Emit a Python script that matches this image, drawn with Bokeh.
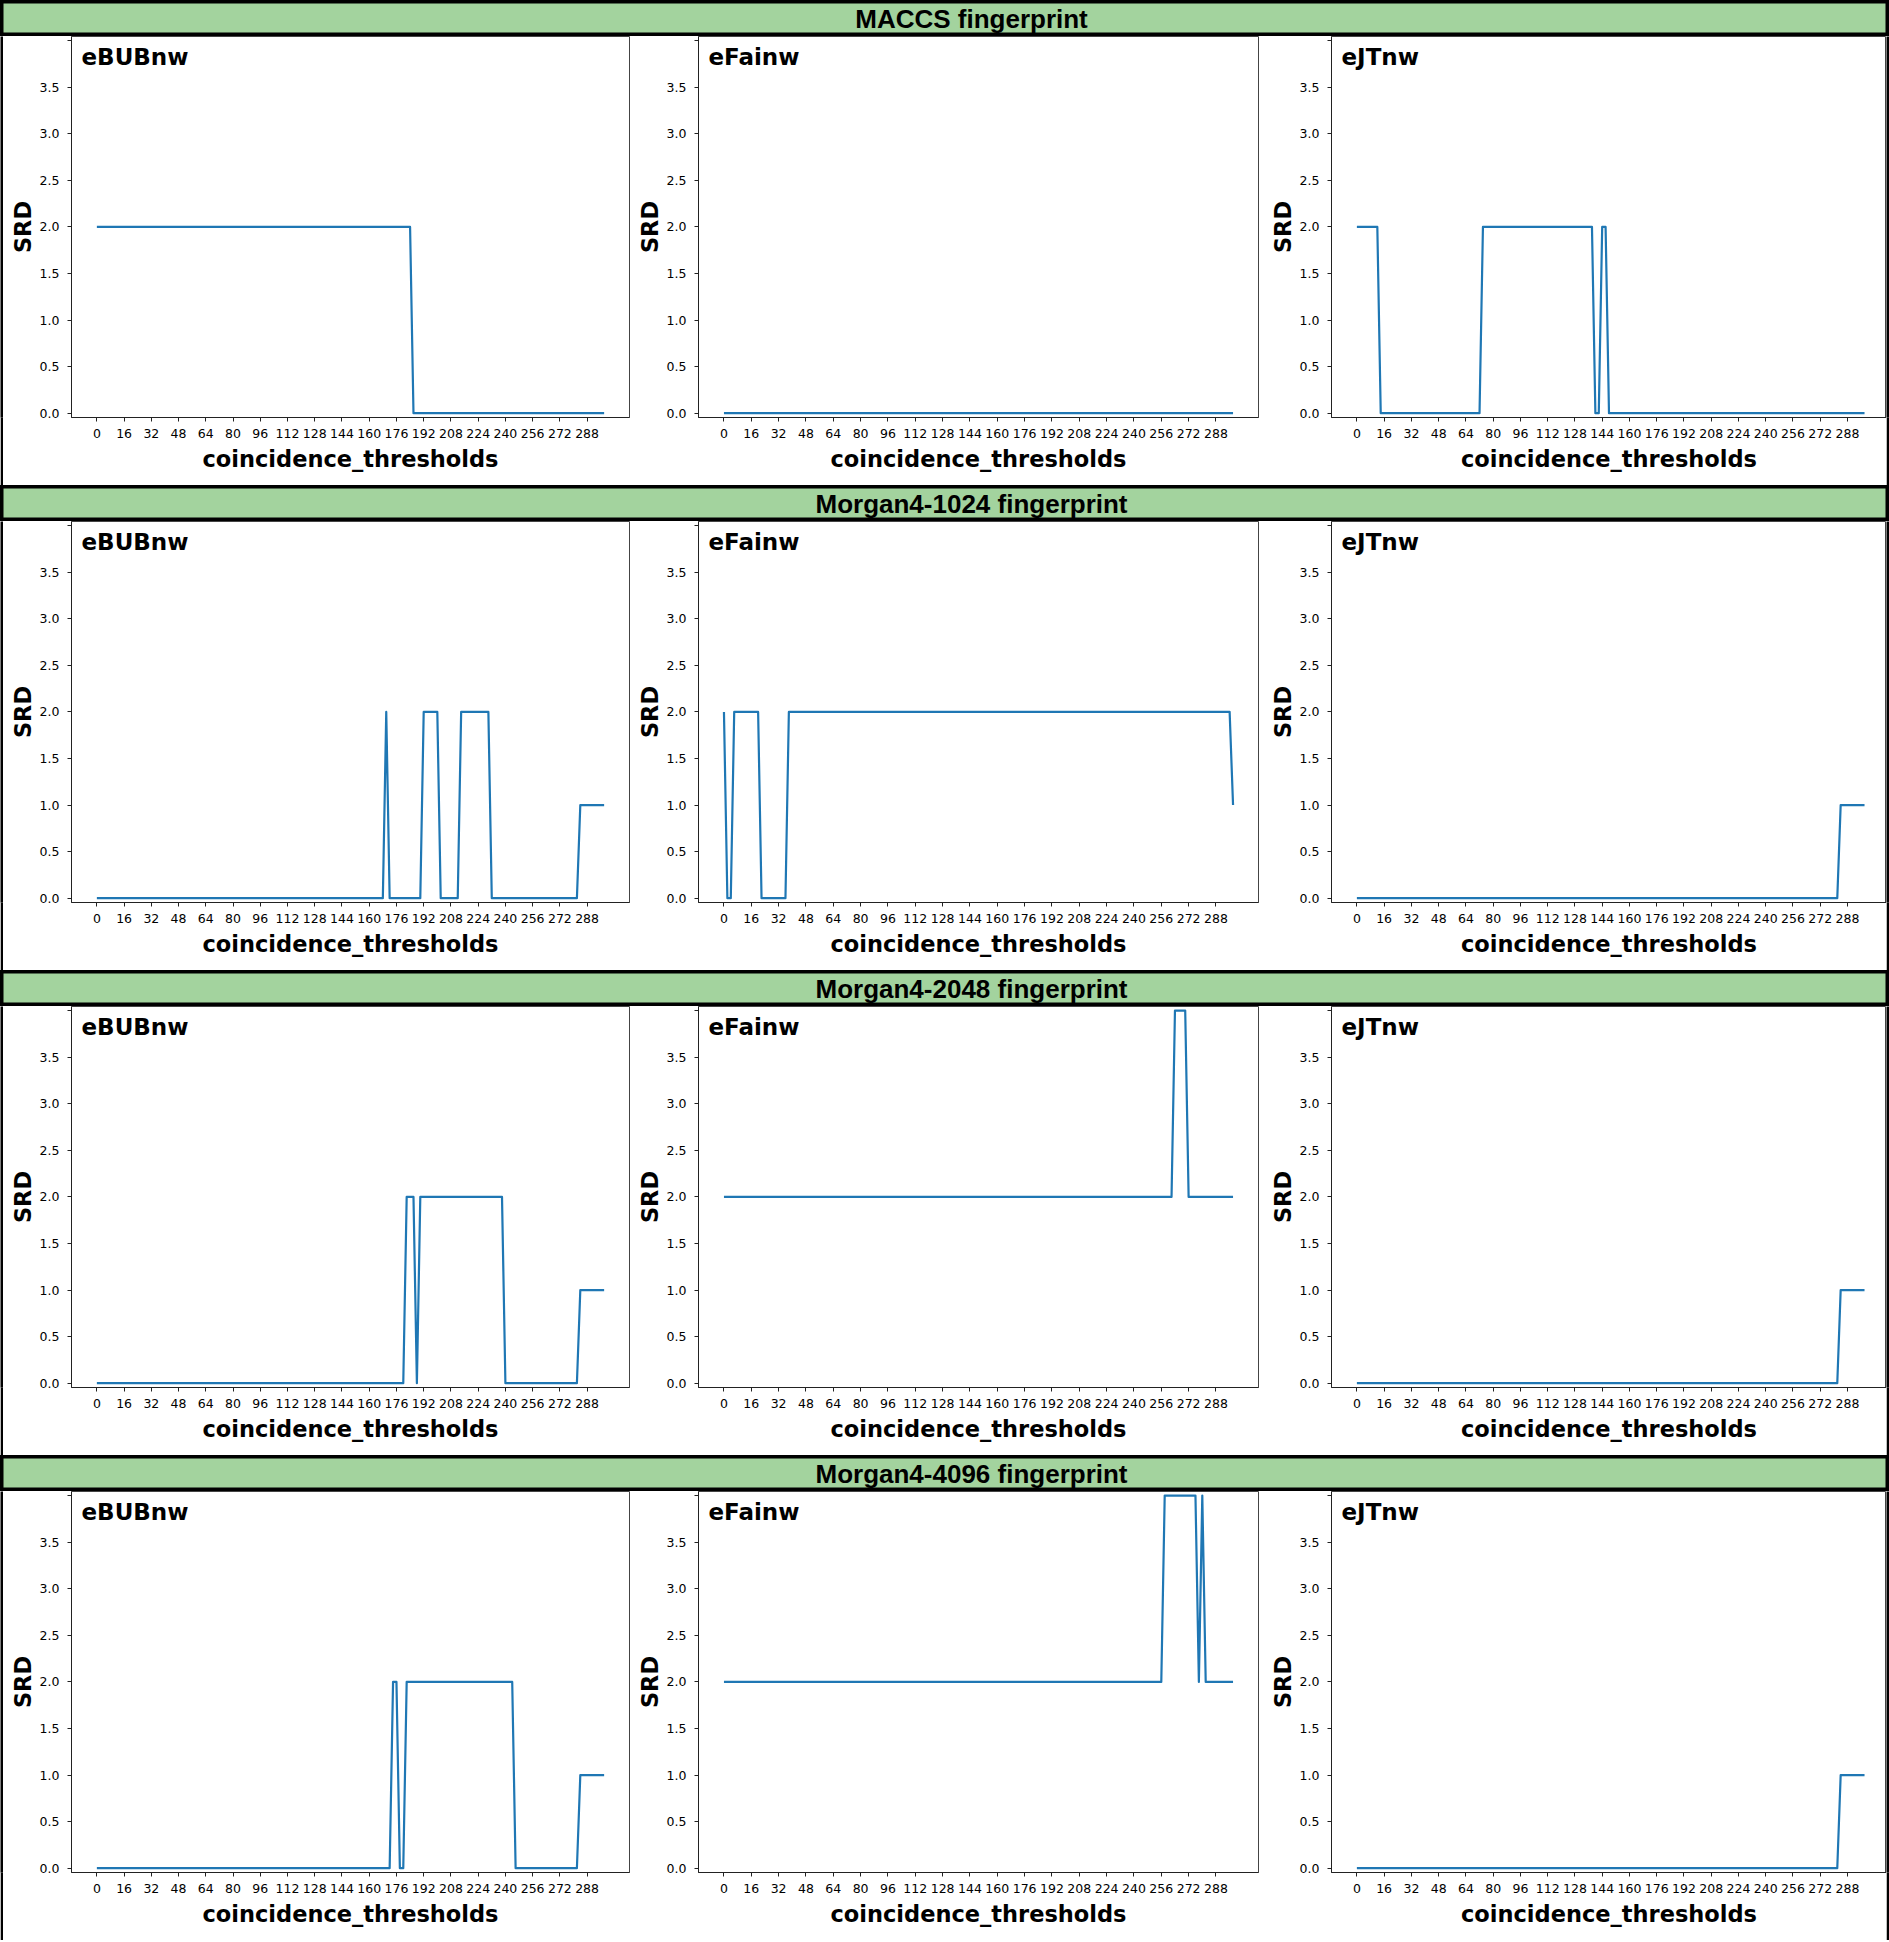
from bokeh.plotting import figure
from bokeh.layouts import column, row
from bokeh.models import Range1d, FixedTicker, Label, PrintfTickFormatter
from bokeh.embed import file_html
from bokeh.resources import INLINE

# ---------------- data ----------------
fingerprints = ["MACCS fingerprint", "Morgan4-1024 fingerprint",
                "Morgan4-2048 fingerprint", "Morgan4-4096 fingerprint"]
methods = ["eBUBnw", "eFainw", "eJTnw"]
x_ticks = [0, 16, 32, 48, 64, 80, 96, 112, 128, 144, 160, 176, 192, 208, 224, 240, 256, 272, 288]
y_ticks = [0.0, 0.5, 1.0, 1.5, 2.0, 2.5, 3.0, 3.5, 4.0]
x_label = "coincidence_thresholds"
y_label = "SRD"

maccs_ebubnw_x = [0, 184, 186, 298]
maccs_ebubnw_y = [2, 2, 0, 0]
maccs_efainw_x = [0, 298]
maccs_efainw_y = [0, 0]
maccs_ejtnw_x = [0, 12, 14, 72, 74, 138, 140, 142, 144, 146, 148, 298]
maccs_ejtnw_y = [2, 2, 0, 0, 2, 2, 0, 0, 2, 2, 0, 0]

m1024_ebubnw_x = [0, 168, 170, 172, 190, 192, 200, 202, 212, 214, 230, 232, 282, 284, 298]
m1024_ebubnw_y = [0, 0, 2, 0, 0, 2, 2, 0, 0, 2, 2, 0, 0, 1, 1]
m1024_efainw_x = [0, 2, 4, 6, 20, 22, 36, 38, 296, 298]
m1024_efainw_y = [2, 0, 0, 2, 2, 0, 0, 2, 2, 1]
m1024_ejtnw_x = [0, 282, 284, 298]
m1024_ejtnw_y = [0, 0, 1, 1]

m2048_ebubnw_x = [0, 180, 182, 186, 188, 190, 238, 240, 282, 284, 298]
m2048_ebubnw_y = [0, 0, 2, 2, 0, 2, 2, 0, 0, 1, 1]
m2048_efainw_x = [0, 262, 264, 270, 272, 298]
m2048_efainw_y = [2, 2, 4, 4, 2, 2]
m2048_ejtnw_x = [0, 282, 284, 298]
m2048_ejtnw_y = [0, 0, 1, 1]

m4096_ebubnw_x = [0, 172, 174, 176, 178, 180, 182, 244, 246, 282, 284, 298]
m4096_ebubnw_y = [0, 0, 2, 2, 0, 0, 2, 2, 0, 0, 1, 1]
m4096_efainw_x = [0, 256, 258, 276, 278, 280, 282, 298]
m4096_efainw_y = [2, 2, 4, 4, 2, 4, 2, 2]
m4096_ejtnw_x = [0, 282, 284, 298]
m4096_ejtnw_y = [0, 0, 1, 1]

series = [
    [(maccs_ebubnw_x, maccs_ebubnw_y), (maccs_efainw_x, maccs_efainw_y), (maccs_ejtnw_x, maccs_ejtnw_y)],
    [(m1024_ebubnw_x, m1024_ebubnw_y), (m1024_efainw_x, m1024_efainw_y), (m1024_ejtnw_x, m1024_ejtnw_y)],
    [(m2048_ebubnw_x, m2048_ebubnw_y), (m2048_efainw_x, m2048_efainw_y), (m2048_ejtnw_x, m2048_ejtnw_y)],
    [(m4096_ebubnw_x, m4096_ebubnw_y), (m4096_efainw_x, m4096_efainw_y), (m4096_ejtnw_x, m4096_ejtnw_y)],
]

# ---------------- layout / style ----------------
TOTAL_W = 1889
HEADER_H = 36
PANEL_H = 449
BORDER = 3
BOTTOM_B = 2
GREEN = "#a3d39e"
LINE = "#1f77b4"
panel_w = [628, 632, 623]
mb_left = [68, 67, 68]
mb_right = [2, 5, 0]
mb_bottom = 68
frame_h = PANEL_H - mb_bottom
x_ranges = [(-14.9, 312.9), (-14.9, 312.9), (-14.9, 310.9)]
y_range = (-0.046, 4.044)
header_text_x = 971


def block(w, h, color):
    b = figure(width=w, height=h, min_border=0, toolbar_location=None,
               output_backend="svg", x_axis_location=None, y_axis_location=None,
               background_fill_color=color, border_fill_color=color,
               outline_line_color=None, x_range=Range1d(0, 1), y_range=Range1d(0, 1))
    b.grid.visible = False
    return b


def header(text):
    h = figure(width=TOTAL_W, height=HEADER_H, min_border=0, toolbar_location=None,
               output_backend="svg", x_axis_location=None, y_axis_location=None,
               background_fill_color=GREEN, border_fill_color=GREEN,
               outline_line_color="black", outline_line_width=6,
               x_range=Range1d(0, TOTAL_W), y_range=Range1d(0, HEADER_H))
    h.grid.visible = False
    h.add_layout(Label(x=header_text_x, y=HEADER_H / 2, text=text,
                       text_align="center", text_baseline="middle",
                       text_font="Liberation Sans", text_font_style="bold",
                       text_font_size="26px", text_color="black"))
    return h


def panel(ci, xs, ys, name):
    p = figure(width=panel_w[ci], height=PANEL_H, toolbar_location=None, output_backend="svg",
               x_range=Range1d(*x_ranges[ci]), y_range=Range1d(*y_range),
               min_border_left=mb_left[ci], min_border_right=mb_right[ci],
               min_border_top=0, min_border_bottom=mb_bottom,
               background_fill_color="white", border_fill_color="white",
               outline_line_color="#444444", outline_line_width=1)
    p.grid.visible = False
    p.line(xs, ys, line_color=LINE, line_width=2.2, line_join="round")

    p.xaxis.ticker = FixedTicker(ticks=x_ticks)
    p.yaxis.ticker = FixedTicker(ticks=y_ticks)
    p.yaxis.formatter = PrintfTickFormatter(format="%.1f")
    p.yaxis.major_label_overrides = {4.0: ""}
    for ax in (p.xaxis, p.yaxis):
        ax.axis_line_color = "#222222"
        ax.axis_line_width = 1
        ax.major_tick_line_color = "#222222"
        ax.major_tick_out = 4
        ax.major_tick_in = 0
        ax.minor_tick_line_color = None
        ax.major_label_text_font = "DejaVu Sans"
        ax.major_label_text_font_size = "12.5px"
        ax.major_label_text_color = "#000000"
        ax.axis_label_text_font = "DejaVu Sans"
        ax.axis_label_text_font_style = "bold"
        ax.axis_label_text_font_size = "22.5px"
        ax.axis_label_text_color = "black"
    p.xaxis.axis_label = x_label
    p.yaxis.axis_label = y_label
    p.xaxis.major_label_standoff = 7
    p.xaxis.axis_label_standoff = 5
    p.yaxis.major_label_standoff = 8
    p.yaxis.axis_label_standoff = 1

    p.add_layout(Label(x=10, y=frame_h - 7, x_units="screen", y_units="screen",
                       text=name, text_align="left", text_baseline="top",
                       text_font="DejaVu Sans", text_font_style="bold",
                       text_font_size="23px", text_color="black"))
    return p


items = []
for ri, fp in enumerate(fingerprints):
    items.append(header(fp))
    figs = [block(BORDER, PANEL_H, "black")]
    for ci, name in enumerate(methods):
        xs, ys = series[ri][ci]
        figs.append(panel(ci, xs, ys, name))
    figs.append(block(BORDER, PANEL_H, "black"))
    items.append(row(*figs, spacing=0))
items.append(block(TOTAL_W, BOTTOM_B, "black"))

layout = column(*items, spacing=0)

open("out.html", "w").write(file_html(layout, INLINE))
